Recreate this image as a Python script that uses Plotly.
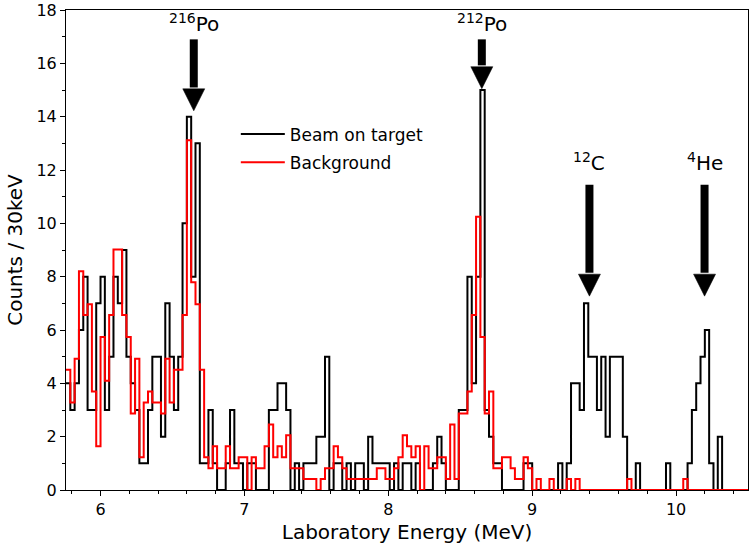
import plotly.graph_objects as go

# Histogram binning (MeV): 30 keV bins
bin_start = 5.76
bin_width = 0.03

# Beam on target counts per 30 keV bin (158 bins, 5.76 -> 10.50 MeV)
beam_counts = [
    4, 3, 4, 6, 8, 3, 3, 7, 8, 3,
    5, 8, 7, 9, 5, 4, 3, 1, 1, 3,
    5, 5, 2, 7, 5, 3, 5, 10, 14, 8,
    13, 1, 1, 3, 1, 0, 0, 1, 3, 1,
    1, 0, 1, 1, 0, 0, 0, 3, 3, 4,
    4, 3, 0, 1, 0, 1, 1, 1, 2, 2,
    5, 0, 1, 1, 0, 1, 0, 1, 1, 0,
    2, 1, 1, 1, 1, 0, 1, 0, 1, 1,
    0, 1, 0, 0, 0, 1, 2, 1, 0, 0,
    0, 3, 3, 8, 4, 8, 15, 3, 2, 1,
    1, 0, 0, 0, 0, 0, 1, 1, 0, 0,
    0, 0, 0, 0, 1, 0, 1, 4, 4, 3,
    7, 5, 5, 3, 5, 2, 5, 5, 5, 2,
    0, 0, 1, 0, 0, 0, 0, 0, 0, 1,
    0, 0, 0, 0, 1, 3, 4, 5, 6, 1,
    0, 2, 0, 0, 0, 0, 0, 0,
]

# Background raw counts per bin and its normalisation to beam time
bg_counts = [
    11, 8, 12, 20, 16, 17, 9, 4, 14, 10,
    16, 22, 22, 16, 14, 7, 12, 3, 8, 9,
    8, 8, 7, 12, 8, 11, 11, 16, 32, 19,
    17, 11, 3, 2, 4, 2, 2, 4, 2, 2,
    3, 3, 0, 3, 2, 2, 4, 6, 3, 4,
    3, 5, 2, 2, 2, 1, 1, 1, 0, 1,
    2, 2, 4, 3, 2, 1, 1, 1, 1, 1,
    1, 1, 2, 2, 1, 1, 2, 3, 5, 4,
    3, 4, 0, 4, 2, 2, 3, 3, 1, 6,
    1, 7, 7, 9, 16, 25, 14, 7, 9, 2,
    2, 3, 3, 2, 1, 1, 3, 2, 0, 1,
    0, 0, 1, 0, 0, 0, 1, 0, 1, 0,
    0, 0, 0, 0, 0, 0, 0, 0, 0, 0,
    1, 0, 0, 0, 0, 0, 0, 0, 0, 0,
    0, 0, 0, 1, 0, 0, 0, 0, 0, 0,
    0, 0, 0, 0, 0, 0, 0, 0,
]
bg_scale = 0.41

# Peak labels and arrow positions (MeV, counts)
peak_labels = ["<sup>216</sup>Po", "<sup>212</sup>Po", "<sup>12</sup>C", "<sup>4</sup>He"]
peak_energy = [6.648, 8.650, 9.398, 10.198]
arrow_top = [16.9, 16.9, 11.45, 11.45]
arrow_tip = [14.22, 15.05, 7.27, 7.27]
label_y = [17.5, 17.5, 12.3, 12.3]

x_ticks = [6, 7, 8, 9, 10]
y_ticks = [0, 2, 4, 6, 8, 10, 12, 14, 16, 18]

x_range = [5.76, 10.5]
y_range = [0, 18]

FONT = "DejaVu Sans"
W, H = 750, 550
M = dict(l=66, r=2, t=10, b=60)

n = len(beam_counts)
edges = [round(bin_start + bin_width * i, 4) for i in range(n + 1)]
bg_values = [c * bg_scale for c in bg_counts]

xs = edges[:-1] + [edges[-1]]
fig = go.Figure()
fig.add_trace(go.Scatter(
    x=xs, y=beam_counts + [beam_counts[-1]], mode="lines",
    line=dict(shape="hv", color="black", width=2),
    name="Beam on target", legendgroup="beam",
))
fig.add_trace(go.Scatter(
    x=xs, y=bg_values + [bg_values[-1]], mode="lines",
    line=dict(shape="hv", color="red", width=2),
    name="Background", legendgroup="bg",
))

# arrow geometry (pixel sizes converted to data units)
px_per_x = (W - M["l"] - M["r"]) / (x_range[1] - x_range[0])
px_per_y = (H - M["t"] - M["b"]) / (y_range[1] - y_range[0])
head_half = 11.0 / px_per_x
head_len = 22.0 / px_per_y

for lab, e, top, tip, ly in zip(peak_labels, peak_energy, arrow_top, arrow_tip, label_y):
    base = tip + head_len
    fig.add_shape(type="line", xref="x", yref="y", x0=e, x1=e, y0=top, y1=base + 0.05,
                  line=dict(color="black", width=8))
    fig.add_shape(type="path", xref="x", yref="y",
                  path=f"M {e - head_half},{base} L {e + head_half},{base} L {e},{tip} Z",
                  fillcolor="black", line=dict(color="black", width=0.5))
    fig.add_annotation(
        x=e, y=ly, xref="x", yref="y", text=lab, showarrow=False,
        font=dict(family=FONT, size=20, color="black"),
    )

axis_common = dict(
    showline=True, linecolor="black", linewidth=1, mirror=True,
    ticks="outside", ticklen=5, tickwidth=1, tickcolor="black",
    showgrid=False, zeroline=False, ticklabeloverflow="allow",
    tickfont=dict(family=FONT, size=16, color="black"),
)

fig.update_xaxes(
    range=x_range, tickmode="array", tickvals=x_ticks,
    minor=dict(ticks="outside", ticklen=3, tickwidth=1, tickcolor="black", dtick=0.2, tick0=0),
    title=dict(text="Laboratory Energy (MeV)", font=dict(family=FONT, size=20, color="black"), standoff=6),
    **axis_common,
)
fig.update_yaxes(
    range=[y_range[0], y_range[1] + 0.001], tickmode="array", tickvals=y_ticks,
    minor=dict(ticks="outside", ticklen=3, tickwidth=1, tickcolor="black", dtick=1, tick0=0),
    title=dict(text="Counts / 30keV", font=dict(family=FONT, size=20, color="black"), standoff=8),
    **axis_common,
)

fig.update_layout(
    width=W, height=H,
    margin=dict(**M, autoexpand=False),
    plot_bgcolor="white", paper_bgcolor="white",
    font=dict(family=FONT, color="black"),
    showlegend=True,
    legend=dict(
        x=0.249, y=0.778, xanchor="left", yanchor="top",
        bgcolor="rgba(0,0,0,0)", borderwidth=0,
        font=dict(family=FONT, size=17, color="black"),
        itemwidth=44, tracegroupgap=3,
    ),
)

fig.write_html("out.html")
